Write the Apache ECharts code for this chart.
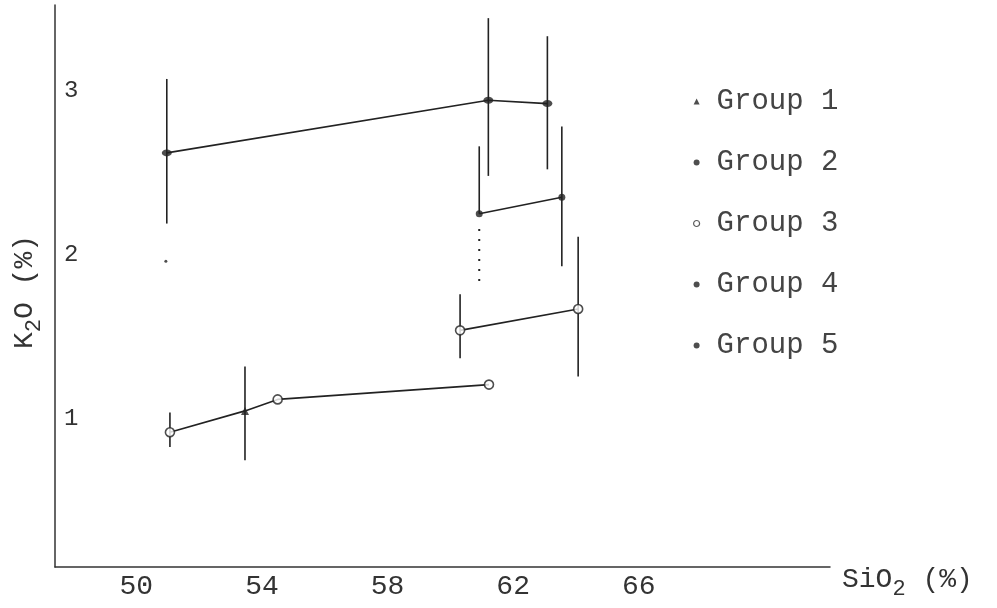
<!DOCTYPE html>
<html>
<head>
<meta charset="utf-8">
<title>K2O vs SiO2</title>
<script src="https://cdn.jsdelivr.net/npm/echarts@6/dist/echarts.min.js"></script>
<style>
  html, body { margin: 0; padding: 0; background: #fff; }
  #chart { width: 997px; height: 608px; }
</style>
</head>
<body>
<div id="chart"></div>
<script>
// tick labels
const sio2Ticks = [50, 54, 58, 62, 66];
const k2oTicks = [1, 2, 3];

// connected means [SiO2, K2O]
const upperLine = [[50.97, 2.62], [61.21, 2.94], [63.09, 2.92]];
const middleLine = [[60.92, 2.25], [63.55, 2.35]];
const lowerLine = [[60.31, 1.54], [64.07, 1.67]];
const bottomLine = [[51.07, 0.92], [53.46, 1.05], [54.50, 1.12], [61.23, 1.21]];

// markers per group
const group1 = [[53.46, 1.05]];
const group2 = [[60.92, 2.25], [63.55, 2.35]];
const group3 = [[51.07, 0.92], [54.50, 1.12], [61.23, 1.21], [60.31, 1.54], [64.07, 1.67]];
const group4 = [[50.94, 1.96]];
const group5 = [[50.97, 2.62], [61.21, 2.94], [63.09, 2.92]];

// ranges [SiO2, low, high]
const errorBars = [
  [50.97, 2.19, 3.07],
  [61.21, 2.48, 3.44],
  [63.09, 2.52, 3.33],
  [60.92, 2.25, 2.66],
  [63.55, 1.93, 2.78],
  [60.31, 1.37, 1.76],
  [64.07, 1.26, 2.11],
  [51.07, 0.83, 1.04],
  [53.46, 0.75, 1.32]
];
const dottedBars = [[60.92, 1.84, 2.19]];

const ink = '#222';
const font = '"Liberation Mono", "DejaVu Sans Mono", monospace';

function barRenderer(dash) {
  return function (params, api) {
    let p1 = api.coord([api.value(0), api.value(1)]);
    let p2 = api.coord([api.value(0), api.value(2)]);
    return {
      type: 'line',
      shape: { x1: p1[0], y1: p1[1], x2: p2[0], y2: p2[1] },
      style: { stroke: ink, lineWidth: dash ? 2 : 1.6, lineDash: dash }
    };
  };
}

function lineSeries(data) {
  return {
    type: 'line',
    data: data,
    symbol: 'none',
    silent: true,
    z: 2,
    lineStyle: { color: ink, width: 1.6 }
  };
}

let chart = echarts.init(document.getElementById('chart'));
let option = {
  backgroundColor: '#fff',
  animation: false,
  grid: { left: 55, right: 167, top: 5, bottom: 41 },
  legend: {
    orient: 'vertical',
    left: 688,
    top: 82,
    itemGap: 32,
    itemWidth: 6,
    itemHeight: 6,
    textStyle: { fontFamily: font, fontSize: 29, color: '#444', padding: [0, 0, 0, 12] },
    data: [
      { name: 'Group 1', icon: 'triangle' },
      { name: 'Group 2', icon: 'circle' },
      { name: 'Group 3', icon: 'circle', itemStyle: { color: '#fff', borderColor: '#333', borderWidth: 1.2 } },
      { name: 'Group 4', icon: 'circle' },
      { name: 'Group 5', icon: 'circle' }
    ]
  },
  xAxis: {
    type: 'value',
    min: 47.41,
    max: 72.09,
    name: '{b|SiO}{s|2}{b| (%)}',
    nameLocation: 'end',
    nameGap: 12,
    nameTextStyle: {
      padding: [26, 0, 0, 0],
      rich: {
        b: { fontFamily: font, fontSize: 28, color: '#333', lineHeight: 30 },
        s: { fontFamily: font, fontSize: 22, color: '#333', lineHeight: 22, padding: [18, 0, 0, 0] }
      }
    },
    axisLine: { lineStyle: { color: '#333', width: 1.5 } },
    axisTick: { show: false },
    splitLine: { show: false },
    axisLabel: {
      customValues: sio2Ticks,
      margin: 6,
      fontFamily: font,
      fontSize: 28,
      color: '#333'
    }
  },
  yAxis: {
    type: 'value',
    min: 0.1,
    max: 3.52,
    axisLine: { show: true, lineStyle: { color: '#333', width: 1.5 } },
    axisTick: { show: false },
    splitLine: { show: false },
    axisLabel: {
      customValues: k2oTicks,
      inside: true,
      margin: 9,
      fontFamily: font,
      fontSize: 24,
      color: '#333'
    }
  },
  graphic: [{
    type: 'text',
    x: 25,
    y: 292,
    rotation: Math.PI / 2,
    style: {
      text: '{b|K}{s|2}{b|O (%)}',
      align: 'center',
      verticalAlign: 'middle',
      rich: {
        b: { fontFamily: font, fontSize: 28, fill: '#333', lineHeight: 30 },
        s: { fontFamily: font, fontSize: 22, fill: '#333', lineHeight: 22, padding: [18, 0, 0, 0] }
      }
    }
  }],
  series: [
    {
      type: 'custom',
      silent: true,
      z: 1,
      renderItem: barRenderer(null),
      encode: { x: 0, y: [1, 2] },
      data: errorBars
    },
    {
      type: 'custom',
      silent: true,
      z: 1,
      renderItem: barRenderer([2, 8]),
      encode: { x: 0, y: [1, 2] },
      data: dottedBars
    },
    lineSeries(upperLine),
    lineSeries(middleLine),
    lineSeries(lowerLine),
    lineSeries(bottomLine),
    {
      name: 'Group 1', type: 'scatter', z: 5, data: group1,
      symbol: 'triangle', symbolSize: 8,
      itemStyle: { color: ink }
    },
    {
      name: 'Group 2', type: 'scatter', z: 5, data: group2,
      symbol: 'circle', symbolSize: 7,
      itemStyle: { color: ink }
    },
    {
      name: 'Group 3', type: 'scatter', z: 5, data: group3,
      symbol: 'circle', symbolSize: 9,
      itemStyle: { color: '#fff', borderColor: ink, borderWidth: 1.6 }
    },
    {
      name: 'Group 4', type: 'scatter', z: 5, data: group4,
      symbol: 'circle', symbolSize: 3,
      itemStyle: { color: ink }
    },
    {
      name: 'Group 5', type: 'scatter', z: 5, data: group5,
      symbol: 'circle', symbolSize: [10, 7],
      itemStyle: { color: ink }
    }
  ]
};
chart.setOption(option);
</script>
</body>
</html>
